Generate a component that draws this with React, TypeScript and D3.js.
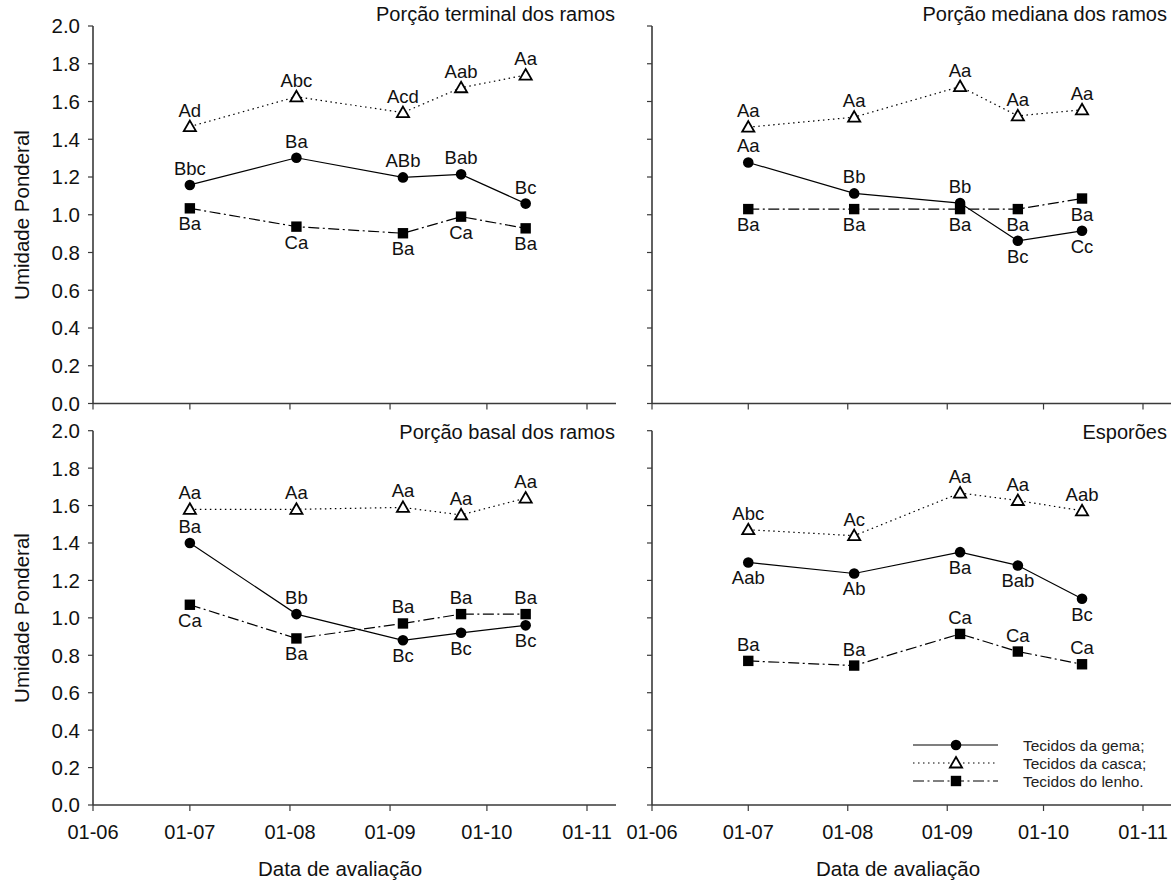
import React from "react";
import * as d3 from "d3";

// ---- data ----
const dates = ["2009-07-01", "2009-08-03", "2009-09-05", "2009-09-23", "2009-10-13"];
const monthTicks = ["2009-06-01", "2009-07-01", "2009-08-01", "2009-09-01", "2009-10-01", "2009-11-01"];
const yTicks = [0, 0.2, 0.4, 0.6, 0.8, 1.0, 1.2, 1.4, 1.6, 1.8, 2.0];

const panelTitles = ["Porção terminal dos ramos", "Porção mediana dos ramos", "Porção basal dos ramos", "Esporões"];
const seriesNames = ["Tecidos da gema;", "Tecidos da casca;", "Tecidos do lenho."];

// Porção terminal
const gemaTerminal = [1.158, 1.302, 1.198, 1.214, 1.059];
const cascaTerminal = [1.467, 1.625, 1.541, 1.673, 1.74];
const lenhoTerminal = [1.034, 0.937, 0.902, 0.99, 0.928];
const gemaTerminalLbl = ["Bbc", "Ba", "ABb", "Bab", "Bc"];
const cascaTerminalLbl = ["Ad", "Abc", "Acd", "Aab", "Aa"];
const lenhoTerminalLbl = ["Ba", "Ca", "Ba", "Ca", "Ba"];
const gemaTerminalPos = ["a", "a", "a", "a", "a"];
const cascaTerminalPos = ["a", "a", "a", "a", "a"];
const lenhoTerminalPos = ["b", "b", "b", "b", "b"];

// Porção mediana
const gemaMediana = [1.277, 1.113, 1.062, 0.862, 0.915];
const cascaMediana = [1.464, 1.517, 1.679, 1.524, 1.556];
const lenhoMediana = [1.03, 1.03, 1.03, 1.03, 1.086];
const gemaMedianaLbl = ["Aa", "Bb", "Bb", "Bc", "Cc"];
const cascaMedianaLbl = ["Aa", "Aa", "Aa", "Aa", "Aa"];
const lenhoMedianaLbl = ["Ba", "Ba", "Ba", "Ba", "Ba"];
const gemaMedianaPos = ["a", "a", "a", "b", "b"];
const cascaMedianaPos = ["a", "a", "a", "a", "a"];
const lenhoMedianaPos = ["b", "b", "b", "b", "b"];

// Porção basal
const gemaBasal = [1.4, 1.02, 0.88, 0.92, 0.96];
const cascaBasal = [1.58, 1.58, 1.59, 1.55, 1.64];
const lenhoBasal = [1.07, 0.89, 0.97, 1.02, 1.02];
const gemaBasalLbl = ["Ba", "Bb", "Bc", "Bc", "Bc"];
const cascaBasalLbl = ["Aa", "Aa", "Aa", "Aa", "Aa"];
const lenhoBasalLbl = ["Ca", "Ba", "Ba", "Ba", "Ba"];
const gemaBasalPos = ["a", "a", "b", "b", "b"];
const cascaBasalPos = ["a", "a", "a", "a", "a"];
const lenhoBasalPos = ["b", "b", "a", "a", "a"];

// Esporões
const gemaEsporoes = [1.296, 1.237, 1.351, 1.28, 1.102];
const cascaEsporoes = [1.471, 1.439, 1.667, 1.627, 1.572];
const lenhoEsporoes = [0.77, 0.745, 0.914, 0.82, 0.752];
const gemaEsporoesLbl = ["Aab", "Ab", "Ba", "Bab", "Bc"];
const cascaEsporoesLbl = ["Abc", "Ac", "Aa", "Aa", "Aab"];
const lenhoEsporoesLbl = ["Ba", "Ba", "Ca", "Ca", "Ca"];
const gemaEsporoesPos = ["b", "b", "b", "b", "b"];
const cascaEsporoesPos = ["a", "a", "a", "a", "a"];
const lenhoEsporoesPos = ["a", "a", "a", "a", "a"];

const FONT = "Arial, 'Liberation Sans', sans-serif";
const parse = d3.timeParse("%Y-%m-%d");
const fmt = d3.timeFormat("%d-%m");

type Series = { vals: number[]; lbl: string[]; pos: string[]; kind: number };

const panels = [
  { title: panelTitles[0], col: 0, row: 0, series: [
    { vals: gemaTerminal, lbl: gemaTerminalLbl, pos: gemaTerminalPos, kind: 0 },
    { vals: cascaTerminal, lbl: cascaTerminalLbl, pos: cascaTerminalPos, kind: 1 },
    { vals: lenhoTerminal, lbl: lenhoTerminalLbl, pos: lenhoTerminalPos, kind: 2 }] },
  { title: panelTitles[1], col: 1, row: 0, series: [
    { vals: gemaMediana, lbl: gemaMedianaLbl, pos: gemaMedianaPos, kind: 0 },
    { vals: cascaMediana, lbl: cascaMedianaLbl, pos: cascaMedianaPos, kind: 1 },
    { vals: lenhoMediana, lbl: lenhoMedianaLbl, pos: lenhoMedianaPos, kind: 2 }] },
  { title: panelTitles[2], col: 0, row: 1, series: [
    { vals: gemaBasal, lbl: gemaBasalLbl, pos: gemaBasalPos, kind: 0 },
    { vals: cascaBasal, lbl: cascaBasalLbl, pos: cascaBasalPos, kind: 1 },
    { vals: lenhoBasal, lbl: lenhoBasalLbl, pos: lenhoBasalPos, kind: 2 }] },
  { title: panelTitles[3], col: 1, row: 1, series: [
    { vals: gemaEsporoes, lbl: gemaEsporoesLbl, pos: gemaEsporoesPos, kind: 0 },
    { vals: cascaEsporoes, lbl: cascaEsporoesLbl, pos: cascaEsporoesPos, kind: 1 },
    { vals: lenhoEsporoes, lbl: lenhoEsporoesLbl, pos: lenhoEsporoesPos, kind: 2 }] },
];

// layout
const colX = [{ x0: 93, x1: 587, end: 616 }, { x0: 652, x1: 1143, end: 1175 }];
const rowY = [{ y0: 403.5, y2: 26 }, { y0: 805, y2: 430.7 }];
const titleY = [21, 439];
const titleEnd = [615, 1167];

const dashFor = ["none", "1.5,3.5", "11,3.5,2,3.5"];
const AXIS = "#3a3a3a";

function Marker({ kind, x, y }: { kind: number; x: number; y: number }) {
  if (kind === 0) return <circle cx={x} cy={y} r={5.3} fill="#000" />;
  if (kind === 1) {
    const tri = d3.symbol().type(d3.symbolTriangle).size(64)();
    return <path d={tri as string} transform={`translate(${x},${y + 1})`} fill="#fff" stroke="#000" strokeWidth={1.8} />;
  }
  return <rect x={x - 5.2} y={y - 5.2} width={10.4} height={10.4} fill="#000" />;
}

function Panel({ p }: { p: any }) {
  const c = colX[p.col];
  const r = rowY[p.row];
  const x = d3.scaleTime().domain([parse(monthTicks[0])!, parse(monthTicks[5])!]).range([c.x0, c.x1]);
  const y = d3.scaleLinear().domain([0, 2]).range([r.y0, r.y2]);
  const line = d3.line<number>().x((_, i) => x(parse(dates[i])!)).y((v) => y(v));
  return (
    <g>
      <line x1={c.x0} x2={c.x0} y1={r.y0} y2={r.y2} stroke={AXIS} strokeWidth={1.6} />
      <line x1={c.x0} x2={c.end} y1={r.y0} y2={r.y0} stroke={AXIS} strokeWidth={1.6} />
      {yTicks.map((t) => (
        <g key={t}>
          <line x1={c.x0 - 5} x2={c.x0} y1={y(t)} y2={y(t)} stroke={AXIS} strokeWidth={1.2} />
          {p.col === 0 && (
            <text x={c.x0 - 13} y={y(t)} dy="0.36em" textAnchor="end" fontSize={20.5} fontFamily={FONT} fill="#111">
              {t.toFixed(1)}
            </text>
          )}
        </g>
      ))}
      {monthTicks.map((m) => (
        <g key={m}>
          <line x1={x(parse(m)!)} x2={x(parse(m)!)} y1={r.y0} y2={r.y0 + 6} stroke={AXIS} strokeWidth={1.2} />
          {p.row === 1 && (
            <text x={x(parse(m)!)} y={r.y0 + 34} textAnchor="middle" fontSize={20} fontFamily={FONT} fill="#111">
              {fmt(parse(m)!)}
            </text>
          )}
        </g>
      ))}
      <text x={titleEnd[p.col]} y={titleY[p.row]} textAnchor="end" fontSize={20} fontFamily={FONT} fill="#111">
        {p.title}
      </text>
      {p.series.map((s: Series, si: number) => (
        <g key={si}>
          <path d={line(s.vals) as string} fill="none" stroke="#000" strokeWidth={1.2} strokeDasharray={dashFor[s.kind]} />
          {s.vals.map((v, i) => {
            const px = x(parse(dates[i])!);
            const py = y(v);
            return (
              <g key={i}>
                <Marker kind={s.kind} x={px} y={py} />
                <text x={px} y={s.pos[i] === "a" ? py - 10 : py + 22} textAnchor="middle" fontSize={18.5} fontFamily={FONT} fill="#111">
                  {s.lbl[i]}
                </text>
              </g>
            );
          })}
        </g>
      ))}
    </g>
  );
}

export default function App() {
  const legendY = [745, 763, 781];
  return (
    <svg width={1171} height={883} style={{ display: "block", position: "absolute", left: 0, top: 0, background: "#fff" }}>
      <rect width={1171} height={883} fill="#fff" />
      {panels.map((p, i) => <Panel key={i} p={p} />)}
      {[215, 618].map((cy, i) => (
        <text key={i} transform={`translate(29,${cy}) rotate(-90)`} textAnchor="middle" fontSize={20.5} fontFamily={FONT} fill="#111">
          Umidade Ponderal
        </text>
      ))}
      {[340, 898].map((cx, i) => (
        <text key={i} x={cx} y={876} textAnchor="middle" fontSize={20.5} fontFamily={FONT} fill="#111">
          Data de avaliação
        </text>
      ))}
      {seriesNames.map((n, i) => (
        <g key={n}>
          <line x1={913} x2={998} y1={legendY[i]} y2={legendY[i]} stroke="#000" strokeWidth={1.2} strokeDasharray={dashFor[i]} />
          <Marker kind={i} x={956} y={legendY[i]} />
          <text x={1023} y={legendY[i] + 5.5} fontSize={15.5} fontFamily={FONT} fill="#222">{n}</text>
        </g>
      ))}
    </svg>
  );
}
